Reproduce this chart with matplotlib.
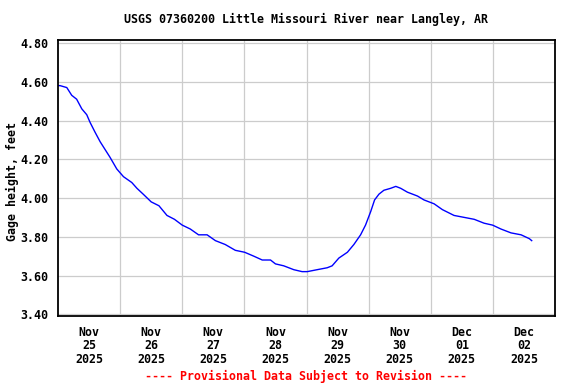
import matplotlib
matplotlib.use("Agg")
import matplotlib.pyplot as plt
import numpy as np

# hours since Nov 25 2025 00:00, gage height (ft)
hours = [0.1, 0.8, 3.4, 5.3, 7.2, 9.2, 11.1, 12.4, 14.3, 16.3, 18.2, 20.1,
         22.7, 25.3, 28.5, 30.5, 32.9, 36.0, 39.0, 42.1, 45.0, 48.0, 51.1,
         54.3, 57.6, 60.8, 64.6, 68.5, 72.1, 75.6, 78.9, 82.1, 84.0, 87.2,
         91.1, 94.3, 96.3, 100.1, 104.0, 105.9, 108.5, 111.8, 114.3, 116.9,
         118.8, 120.8, 122.3, 124.0, 125.9, 128.5, 130.5, 132.4, 135.0,
         138.9, 141.4, 145.3, 148.5, 153.0, 156.9, 160.8, 164.6, 167.9,
         171.1, 175.0, 178.9, 182.1, 183.0]
gage = [4.58, 4.58, 4.57, 4.53, 4.51, 4.46, 4.43, 4.39, 4.34, 4.29, 4.25, 4.21,
        4.15, 4.11, 4.08, 4.05, 4.02, 3.98, 3.96, 3.91, 3.89, 3.86, 3.84,
        3.81, 3.81, 3.78, 3.76, 3.73, 3.72, 3.70, 3.68, 3.68, 3.66, 3.65,
        3.63, 3.62, 3.62, 3.63, 3.64, 3.65, 3.69, 3.72, 3.76, 3.81,
        3.86, 3.93, 3.99, 4.02, 4.04, 4.05, 4.06, 4.05, 4.03,
        4.01, 3.99, 3.97, 3.94, 3.91, 3.90, 3.89, 3.87, 3.86,
        3.84, 3.82, 3.81, 3.79, 3.78]

day_labels = ["Nov\n25\n2025", "Nov\n26\n2025", "Nov\n27\n2025", "Nov\n28\n2025",
              "Nov\n29\n2025", "Nov\n30\n2025", "Dec\n01\n2025", "Dec\n02\n2025"]
y_ticks = [3.40, 3.60, 3.80, 4.00, 4.20, 4.40, 4.60, 4.80]

plt.rcParams['font.family'] = ['DejaVu Sans Mono']
plt.rcParams['font.weight'] = 'bold'
fs = 8.4

fig = plt.figure(figsize=(5.76, 3.84), dpi=100)
ax = fig.add_axes([58/576, 1-316/384, 497/576, 276/384])

days = np.array(hours) / 24.0
ax.plot(days, gage, color='#0000ff', lw=1.0)

ax.set_xlim(0, 8)
ax.set_ylim(3.391, 4.8155)

ax.set_yticks(y_ticks)
ax.set_yticklabels(["%.2f" % v for v in y_ticks], fontsize=fs, fontweight='bold')
ax.set_xticks(range(1, 8))
ax.set_xticklabels([])
ax.set_xticks(np.arange(8) + 0.5, minor=True)
ax.set_xticklabels(day_labels, minor=True, fontsize=fs, fontweight='bold',
                   linespacing=1.05)
ax.tick_params(axis='both', which='both', length=0)
ax.tick_params(axis='y', pad=7)
ax.tick_params(axis='x', which='minor', pad=7)

ax.grid(True, which='major', color='#cccccc', lw=0.9)
ax.set_axisbelow(True)
for s in ax.spines.values():
    s.set_linewidth(1.3)
    s.set_color('black')

fig.text(306.5/576, 1-19/384, "USGS 07360200 Little Missouri River near Langley, AR",
         ha='center', va='center', fontsize=fs, fontweight='bold')
fig.text(12/576, 1-181/384, "Gage height, feet", rotation=90,
         ha='center', va='center', fontsize=fs, fontweight='bold')
fig.text(306/576, 1-376/384, "---- Provisional Data Subject to Revision ----",
         ha='center', va='center', fontsize=fs, fontweight='bold', color='red')

fig.savefig("out.png", dpi=100)
